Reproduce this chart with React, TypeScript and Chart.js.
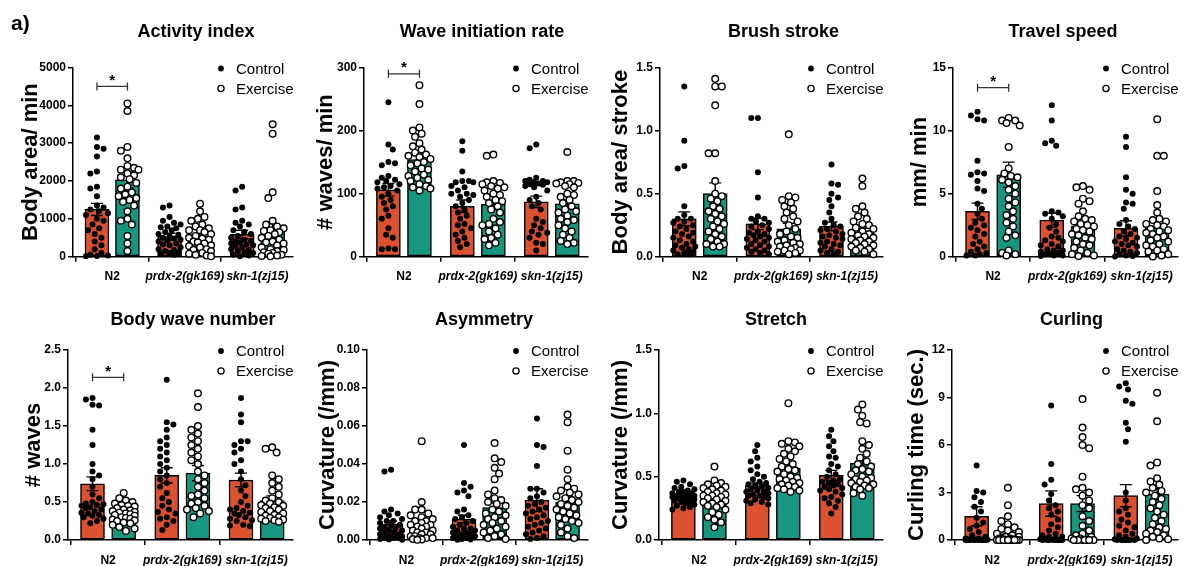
import React, { useEffect, useRef } from 'react';
import { Chart, registerables } from 'chart.js';

Chart.register(...registerables);

// ---------------- DATA ----------------
const categories = ['N2', 'prdx-2(gk169)', 'skn-1(zj15)'];
const seriesNames = ['Control', 'Exercise'];

// Activity index (body area / min)
const activityControl = [
  [3150, 2900, 2850, 2650, 2250, 2200, 1850, 1800, 1600, 1350, 1300, 1250, 1200, 1150, 1100, 1000, 950, 850, 750, 700, 600, 500, 400, 300, 200, 100, 50, 30, 20, 10],
  [1350, 1300, 1050, 950, 900, 850, 800, 780, 750, 700, 650, 600, 580, 550, 500, 480, 450, 420, 400, 350, 320, 300, 250, 200, 180, 150, 120, 100, 80, 50],
  [1850, 1750, 1300, 1250, 950, 900, 850, 800, 700, 650, 600, 550, 500, 450, 420, 400, 380, 350, 320, 300, 280, 250, 200, 180, 150, 120, 100, 50, 30, 10],
];
const activityExercise = [
  [4050, 3850, 2900, 2800, 2600, 2400, 2350, 2300, 2300, 2200, 2150, 2100, 2050, 1950, 1850, 1800, 1700, 1650, 1600, 1550, 1500, 1450, 1350, 1200, 1000, 950, 850, 550, 350, 150],
  [1400, 1200, 1050, 1000, 950, 850, 800, 750, 700, 700, 650, 600, 550, 500, 480, 450, 400, 380, 350, 300, 280, 250, 200, 180, 150, 100, 80, 50, 30, 10],
  [3500, 3250, 1700, 1550, 950, 850, 800, 750, 700, 680, 650, 600, 550, 500, 450, 400, 380, 350, 300, 250, 200, 180, 150, 120, 100, 80, 50, 30, 20, 10],
];
const activityControlMean = [1250, 530, 590];
const activityControlSem = [160, 90, 110];
const activityExerciseMean = [2030, 540, 720];
const activityExerciseSem = [210, 70, 150];

// Wave initiation rate (# waves / min)
const waveControl = [
  [245, 178, 170, 150, 148, 145, 128, 125, 122, 120, 118, 115, 112, 110, 108, 105, 100, 95, 90, 85, 80, 75, 65, 60, 45, 35, 30, 13, 12, 12],
  [183, 168, 135, 120, 120, 118, 118, 112, 110, 105, 100, 100, 98, 95, 90, 85, 80, 75, 70, 65, 60, 52, 50, 45, 40, 35, 30, 25, 20, 15],
  [178, 172, 125, 122, 120, 120, 118, 118, 116, 115, 114, 112, 110, 105, 95, 90, 85, 80, 75, 60, 55, 50, 45, 40, 38, 35, 30, 22, 20, 10],
];
const waveExercise = [
  [272, 242, 205, 200, 195, 190, 180, 175, 170, 165, 162, 160, 158, 155, 150, 148, 145, 140, 138, 135, 130, 128, 125, 122, 120, 115, 112, 110, 108, 105],
  [162, 160, 120, 118, 117, 115, 112, 110, 108, 105, 100, 98, 95, 90, 88, 85, 80, 75, 70, 60, 55, 52, 50, 45, 40, 35, 30, 28, 22, 18],
  [166, 120, 120, 118, 117, 116, 115, 112, 110, 100, 98, 95, 90, 85, 80, 75, 72, 70, 65, 60, 58, 55, 50, 45, 40, 35, 30, 25, 22, 20],
];
const waveControlMean = [106, 80, 87];
const waveControlSem = [10, 10, 9];
const waveExerciseMean = [154, 83, 84];
const waveExerciseSem = [8, 6, 6];

// Brush stroke (body area / stroke)
const brushControl = [
  [1.35, 0.92, 0.72, 0.70, 0.40, 0.33, 0.30, 0.30, 0.28, 0.27, 0.25, 0.24, 0.22, 0.20, 0.19, 0.18, 0.16, 0.15, 0.13, 0.12, 0.10, 0.09, 0.08, 0.07, 0.06, 0.05, 0.04, 0.03, 0.02, 0.02],
  [1.10, 1.10, 0.67, 0.47, 0.32, 0.30, 0.30, 0.28, 0.27, 0.25, 0.24, 0.22, 0.20, 0.19, 0.18, 0.17, 0.16, 0.15, 0.14, 0.13, 0.12, 0.10, 0.09, 0.08, 0.07, 0.06, 0.05, 0.04, 0.03, 0.02],
  [0.73, 0.58, 0.57, 0.50, 0.47, 0.45, 0.40, 0.35, 0.30, 0.27, 0.25, 0.24, 0.22, 0.21, 0.20, 0.18, 0.17, 0.16, 0.15, 0.14, 0.12, 0.11, 0.10, 0.09, 0.08, 0.06, 0.05, 0.04, 0.03, 0.02],
];
const brushExercise = [
  [1.41, 1.35, 1.35, 1.20, 0.82, 0.82, 0.60, 0.50, 0.48, 0.46, 0.44, 0.40, 0.38, 0.36, 0.34, 0.32, 0.30, 0.28, 0.26, 0.24, 0.22, 0.20, 0.18, 0.16, 0.14, 0.12, 0.10, 0.10, 0.08, 0.08],
  [0.97, 0.48, 0.47, 0.45, 0.43, 0.40, 0.38, 0.35, 0.32, 0.30, 0.28, 0.25, 0.22, 0.20, 0.18, 0.16, 0.15, 0.13, 0.12, 0.11, 0.10, 0.09, 0.08, 0.07, 0.06, 0.05, 0.05, 0.04, 0.03, 0.02],
  [0.62, 0.56, 0.40, 0.38, 0.35, 0.32, 0.30, 0.28, 0.26, 0.25, 0.23, 0.22, 0.20, 0.19, 0.18, 0.17, 0.16, 0.15, 0.14, 0.13, 0.12, 0.11, 0.10, 0.09, 0.08, 0.07, 0.06, 0.05, 0.04, 0.02],
];
const brushControlMean = [0.30, 0.26, 0.24];
const brushControlSem = [0.055, 0.045, 0.035];
const brushExerciseMean = [0.50, 0.22, 0.19];
const brushExerciseSem = [0.085, 0.045, 0.035];

// Travel speed (mm / min)
const speedControl = [
  [11.5, 11.2, 10.9, 10.8, 7.6, 6.7, 6.6, 6.5, 6.0, 5.4, 5.2, 4.2, 3.8, 3.4, 3.0, 2.7, 2.5, 2.3, 2.1, 1.8, 1.6, 1.2, 1.0, 0.8, 0.6, 0.4, 0.3, 0.2, 0.1, 0.1],
  [12.0, 10.8, 9.2, 9.0, 8.8, 3.6, 3.5, 3.4, 3.2, 3.0, 2.6, 2.3, 2.0, 1.6, 1.5, 1.3, 1.2, 1.0, 0.9, 0.8, 0.6, 0.5, 0.5, 0.4, 0.3, 0.2, 0.2, 0.1, 0.1, 0.05],
  [9.5, 8.7, 6.3, 5.3, 5.0, 4.3, 4.2, 3.8, 2.9, 2.6, 2.4, 2.2, 2.0, 1.8, 1.6, 1.5, 1.4, 1.2, 1.1, 1.0, 0.9, 0.8, 0.6, 0.5, 0.4, 0.3, 0.2, 0.1, 0.05, 0.02],
];
const speedExercise = [
  [11.0, 10.8, 10.8, 10.6, 10.4, 8.7, 7.0, 6.6, 6.4, 6.3, 6.1, 5.9, 5.6, 5.3, 5.0, 4.6, 4.3, 4.0, 3.6, 3.3, 3.0, 2.7, 2.4, 2.0, 1.7, 1.5, 0.5, 0.3, 0.2, 0.1],
  [5.6, 5.5, 5.3, 4.6, 4.4, 4.2, 3.6, 3.2, 3.0, 2.9, 2.8, 2.6, 2.5, 2.4, 2.2, 2.1, 2.0, 1.8, 1.7, 1.5, 1.4, 1.2, 1.0, 0.9, 0.7, 0.5, 0.3, 0.2, 0.1, 0.05],
  [10.9, 8.0, 8.0, 5.2, 4.1, 3.5, 3.0, 2.9, 2.8, 2.6, 2.5, 2.4, 2.2, 2.1, 2.0, 1.9, 1.8, 1.6, 1.5, 1.3, 1.2, 1.0, 0.9, 0.8, 0.6, 0.5, 0.4, 0.2, 0.1, 0.02],
];
const speedControlMean = [3.6, 2.9, 2.25];
const speedControlSem = [0.65, 0.55, 0.6];
const speedExerciseMean = [6.5, 2.4, 2.3];
const speedExerciseSem = [1.0, 0.3, 0.5];

// Body wave number (# waves)
const bodyWaveControl = [
  [1.87, 1.85, 1.78, 1.77, 1.45, 1.25, 1.0, 0.9, 0.85, 0.8, 0.7, 0.6, 0.55, 0.5, 0.48, 0.47, 0.46, 0.45, 0.43, 0.42, 0.40, 0.38, 0.36, 0.35, 0.33, 0.32, 0.30, 0.28, 0.25, 0.22],
  [2.11, 1.55, 1.52, 1.45, 1.35, 1.30, 1.25, 1.20, 1.15, 1.10, 1.05, 1.00, 0.95, 0.90, 0.85, 0.80, 0.75, 0.70, 0.62, 0.55, 0.50, 0.45, 0.40, 0.37, 0.35, 0.30, 0.28, 0.25, 0.20, 0.13],
  [1.87, 1.65, 1.55, 1.30, 1.30, 1.25, 1.20, 1.15, 1.05, 1.00, 0.90, 0.80, 0.72, 0.65, 0.58, 0.50, 0.45, 0.42, 0.40, 0.38, 0.36, 0.35, 0.33, 0.30, 0.28, 0.26, 0.25, 0.20, 0.19, 0.18],
];
const bodyWaveExercise = [
  [0.62, 0.55, 0.52, 0.50, 0.48, 0.46, 0.45, 0.44, 0.42, 0.40, 0.39, 0.38, 0.37, 0.36, 0.35, 0.34, 0.33, 0.32, 0.30, 0.29, 0.28, 0.27, 0.26, 0.25, 0.23, 0.22, 0.20, 0.17, 0.15, 0.12],
  [1.93, 1.75, 1.50, 1.45, 1.40, 1.35, 1.30, 1.25, 1.20, 1.15, 1.10, 1.05, 1.00, 0.90, 0.85, 0.80, 0.75, 0.70, 0.65, 0.60, 0.58, 0.55, 0.50, 0.48, 0.45, 0.42, 0.40, 0.38, 0.35, 0.30],
  [1.22, 1.20, 1.15, 0.85, 0.80, 0.75, 0.70, 0.65, 0.60, 0.55, 0.52, 0.50, 0.48, 0.46, 0.45, 0.43, 0.42, 0.40, 0.38, 0.37, 0.35, 0.33, 0.32, 0.30, 0.29, 0.28, 0.27, 0.26, 0.25, 0.24],
];
const bodyWaveControlMean = [0.74, 0.85, 0.79];
const bodyWaveControlSem = [0.09, 0.1, 0.09];
const bodyWaveExerciseMean = [0.36, 0.88, 0.52];
const bodyWaveExerciseSem = [0.03, 0.1, 0.06];

// Asymmetry (curvature /mm)
const asymControl = [
  [0.037, 0.036, 0.016, 0.015, 0.014, 0.013, 0.012, 0.011, 0.010, 0.010, 0.009, 0.008, 0.008, 0.007, 0.006, 0.006, 0.005, 0.005, 0.004, 0.004, 0.003, 0.003, 0.002, 0.002, 0.001, 0.001, 0.001, 0.0005, 0.0003, 0.0001],
  [0.050, 0.030, 0.028, 0.026, 0.025, 0.023, 0.016, 0.015, 0.013, 0.012, 0.011, 0.010, 0.009, 0.008, 0.007, 0.006, 0.006, 0.005, 0.005, 0.004, 0.004, 0.003, 0.003, 0.002, 0.002, 0.001, 0.001, 0.0005, 0.0003, 0.0001],
  [0.064, 0.050, 0.049, 0.039, 0.027, 0.027, 0.025, 0.023, 0.022, 0.020, 0.019, 0.018, 0.017, 0.016, 0.015, 0.014, 0.013, 0.012, 0.011, 0.010, 0.009, 0.008, 0.007, 0.006, 0.005, 0.004, 0.003, 0.002, 0.001, 0.0005],
];
const asymExercise = [
  [0.052, 0.020, 0.016, 0.016, 0.014, 0.013, 0.012, 0.011, 0.010, 0.010, 0.009, 0.008, 0.008, 0.007, 0.007, 0.006, 0.005, 0.005, 0.004, 0.004, 0.003, 0.003, 0.002, 0.002, 0.001, 0.001, 0.001, 0.0005, 0.0003, 0.0001],
  [0.051, 0.043, 0.041, 0.038, 0.035, 0.032, 0.026, 0.024, 0.022, 0.021, 0.020, 0.019, 0.018, 0.016, 0.015, 0.014, 0.013, 0.012, 0.011, 0.010, 0.009, 0.008, 0.007, 0.006, 0.005, 0.004, 0.003, 0.002, 0.001, 0.0005],
  [0.066, 0.062, 0.047, 0.037, 0.032, 0.028, 0.027, 0.026, 0.025, 0.024, 0.023, 0.022, 0.021, 0.020, 0.019, 0.018, 0.017, 0.016, 0.015, 0.014, 0.013, 0.012, 0.011, 0.010, 0.009, 0.008, 0.006, 0.004, 0.002, 0.001],
];
const asymControlMean = [0.0082, 0.011, 0.021];
const asymControlSem = [0.0018, 0.002, 0.006];
const asymExerciseMean = [0.0083, 0.017, 0.020];
const asymExerciseSem = [0.0018, 0.0025, 0.0025];

// Stretch (curvature /mm)
const stretchControl = [
  [0.47, 0.46, 0.44, 0.42, 0.41, 0.40, 0.39, 0.38, 0.38, 0.37, 0.37, 0.36, 0.36, 0.35, 0.35, 0.34, 0.34, 0.33, 0.33, 0.32, 0.32, 0.31, 0.30, 0.30, 0.29, 0.28, 0.27, 0.26, 0.25, 0.24],
  [0.75, 0.70, 0.65, 0.62, 0.58, 0.55, 0.52, 0.50, 0.48, 0.46, 0.45, 0.44, 0.43, 0.42, 0.41, 0.40, 0.39, 0.38, 0.38, 0.37, 0.36, 0.35, 0.35, 0.34, 0.33, 0.32, 0.31, 0.30, 0.29, 0.28],
  [0.87, 0.82, 0.78, 0.74, 0.70, 0.66, 0.65, 0.60, 0.58, 0.55, 0.52, 0.50, 0.48, 0.47, 0.46, 0.45, 0.44, 0.43, 0.42, 0.41, 0.40, 0.39, 0.38, 0.36, 0.34, 0.33, 0.31, 0.29, 0.26, 0.21],
];
const stretchExercise = [
  [0.58, 0.47, 0.45, 0.44, 0.43, 0.42, 0.41, 0.40, 0.39, 0.38, 0.37, 0.36, 0.35, 0.35, 0.34, 0.33, 0.32, 0.31, 0.30, 0.29, 0.28, 0.27, 0.26, 0.24, 0.22, 0.20, 0.18, 0.16, 0.14, 0.10],
  [1.08, 0.78, 0.77, 0.76, 0.74, 0.72, 0.70, 0.68, 0.66, 0.64, 0.62, 0.60, 0.58, 0.56, 0.55, 0.54, 0.52, 0.50, 0.49, 0.48, 0.47, 0.46, 0.45, 0.44, 0.43, 0.42, 0.41, 0.40, 0.39, 0.38],
  [1.07, 1.03, 0.98, 0.93, 0.92, 0.78, 0.75, 0.72, 0.68, 0.65, 0.62, 0.60, 0.58, 0.56, 0.55, 0.54, 0.52, 0.50, 0.49, 0.48, 0.47, 0.46, 0.45, 0.44, 0.43, 0.42, 0.41, 0.40, 0.37, 0.35],
];
const stretchControlMean = [0.36, 0.43, 0.51];
const stretchControlSem = [0.01, 0.02, 0.04];
const stretchExerciseMean = [0.34, 0.565, 0.605];
const stretchExerciseSem = [0.02, 0.03, 0.04];

// Curling (curling time, sec.)
const curlControl = [
  [4.7, 3.1, 3.0, 2.7, 2.4, 2.1, 1.8, 1.4, 1.1, 0.9, 0.7, 0.5, 0.3, 0.2, 0.1, 0.1, 0.05, 0.05, 0.02, 0.02, 0.01, 0.01, 0, 0, 0, 0, 0, 0, 0, 0],
  [8.5, 4.8, 3.8, 3.5, 2.9, 2.5, 2.2, 2.0, 1.8, 1.6, 1.3, 1.0, 0.8, 0.6, 0.4, 0.3, 0.2, 0.2, 0.1, 0.1, 0.05, 0.05, 0, 0, 0, 0, 0, 0, 0, 0],
  [9.9, 9.7, 9.5, 8.8, 8.6, 7.4, 7.0, 6.2, 3.0, 2.5, 2.0, 1.8, 1.6, 1.3, 1.1, 0.9, 0.8, 0.6, 0.4, 0.3, 0.2, 0.1, 0.05, 0, 0, 0, 0, 0, 0, 0],
];
const curlExercise = [
  [3.3, 2.2, 1.5, 1.2, 1.0, 0.8, 0.7, 0.6, 0.5, 0.4, 0.3, 0.2, 0.2, 0.1, 0.1, 0.05, 0.05, 0, 0, 0, 0, 0, 0, 0, 0, 0, 0, 0, 0, 0],
  [8.9, 7.1, 6.5, 6.0, 5.8, 4.0, 3.3, 3.2, 3.0, 2.8, 2.5, 2.2, 2.0, 1.5, 1.2, 0.9, 0.6, 0.4, 0.3, 0.2, 0.1, 0.1, 0, 0, 0, 0, 0, 0, 0, 0],
  [9.3, 7.5, 4.9, 4.7, 3.9, 3.7, 3.5, 3.3, 3.1, 3.0, 2.8, 2.6, 2.4, 2.2, 2.0, 1.8, 1.6, 1.4, 1.2, 1.0, 0.8, 0.7, 0.6, 0.5, 0.4, 0.3, 0.2, 0.1, 0.05, 0],
];
const curlControlMean = [1.5, 2.3, 2.8];
const curlControlSem = [0.6, 0.8, 0.7];
const curlExerciseMean = [0.4, 2.3, 2.9];
const curlExerciseSem = [0.15, 0.5, 0.35];

// ---------------- STYLE / LAYOUT ----------------
const SANS = "'Liberation Sans', Arial, Helvetica, sans-serif";
const RED = '#DC5230';
const TEAL = '#17977F';
const X_MIN = -0.54;
const X_MAX = 2.49;
const BAR_OFF = 0.21;
const TITLE_SIZE = 18;
const YTITLE_SIZE = 22;

type Panel = {
  title: string; yTitle: string; max: number; step: number; dec: number;
  control: number[][]; exercise: number[][];
  cMean: number[]; cSem: number[]; eMean: number[]; eSem: number[];
  sig: number | null;
  cl: number; ct: number; cw: number; ch: number;
  L: number; R: number; T: number; B: number; titleY: number; yTitleX: number;
};

const TOP = { ct: 0, ch: 285, T: 67.5, B: 256.7, titleY: 32 };
const BOT = { ct: 285, ch: 281, T: 350, B: 540, titleY: 320 };

const PANELS: Panel[] = [
  { title: 'Activity index', yTitle: 'Body area/ min', max: 5000, step: 1000, dec: 0,
    control: activityControl, exercise: activityExercise,
    cMean: activityControlMean, cSem: activityControlSem, eMean: activityExerciseMean, eSem: activityExerciseSem,
    sig: 4500, cl: 0, cw: 392, L: 73, R: 293, yTitleX: 31, ...TOP },
  { title: 'Wave initiation rate', yTitle: '# waves/ min', max: 300, step: 100, dec: 0,
    control: waveControl, exercise: waveExercise,
    cMean: waveControlMean, cSem: waveControlSem, eMean: waveExerciseMean, eSem: waveExerciseSem,
    sig: 290, cl: 295, cw: 374, L: 364, R: 588, yTitleX: 326, ...TOP },
  { title: 'Brush stroke', yTitle: 'Body area/ stroke', max: 1.5, step: 0.5, dec: 1,
    control: brushControl, exercise: brushExercise,
    cMean: brushControlMean, cSem: brushControlSem, eMean: brushExerciseMean, eSem: brushExerciseSem,
    sig: null, cl: 590, cw: 387, L: 660, R: 883, yTitleX: 621, ...TOP },
  { title: 'Travel speed', yTitle: 'mm/ min', max: 15, step: 5, dec: 0,
    control: speedControl, exercise: speedExercise,
    cMean: speedControlMean, cSem: speedControlSem, eMean: speedExerciseMean, eSem: speedExerciseSem,
    sig: 13.4, cl: 885, cw: 356, L: 953, R: 1178, yTitleX: 920, ...TOP },
  { title: 'Body wave number', yTitle: '# waves', max: 2.5, step: 0.5, dec: 1,
    control: bodyWaveControl, exercise: bodyWaveExercise,
    cMean: bodyWaveControlMean, cSem: bodyWaveControlSem, eMean: bodyWaveExerciseMean, eSem: bodyWaveExerciseSem,
    sig: 2.14, cl: 0, cw: 386, L: 68, R: 293, yTitleX: 34, ...BOT },
  { title: 'Asymmetry', yTitle: 'Curvature (/mm)', max: 0.1, step: 0.02, dec: 2,
    control: asymControl, exercise: asymExercise,
    cMean: asymControlMean, cSem: asymControlSem, eMean: asymExerciseMean, eSem: asymExerciseSem,
    sig: null, cl: 295, cw: 378, L: 367, R: 588, yTitleX: 328, ...BOT },
  { title: 'Stretch', yTitle: 'Curvature (/mm)', max: 1.5, step: 0.5, dec: 1,
    control: stretchControl, exercise: stretchExercise,
    cMean: stretchControlMean, cSem: stretchControlSem, eMean: stretchExerciseMean, eSem: stretchExerciseSem,
    sig: null, cl: 590, cw: 372, L: 659, R: 883, yTitleX: 621, ...BOT },
  { title: 'Curling', yTitle: 'Curling time (sec.)', max: 12, step: 3, dec: 0,
    control: curlControl, exercise: curlExercise,
    cMean: curlControlMean, cSem: curlControlSem, eMean: curlExerciseMean, eSem: curlExerciseSem,
    sig: null, cl: 885, cw: 373, L: 952, R: 1178, yTitleX: 917, ...BOT },
];

// beeswarm-like horizontal spreading (layout only, values untouched)
function swarmOffsets(values: number[], pxPerY: number, pxPerX: number): number[] {
  const r = 3.3, maxPx = 11, step = 2.2;
  const order = values.map((_, i) => i).sort((a, b) => values[b] - values[a]);
  const placed: { x: number; y: number }[] = [];
  const out = new Array(values.length).fill(0);
  order.forEach((idx, k) => {
    const y = values[idx] * pxPerY;
    const cands = [0];
    for (let s = step; s <= maxPx + 1e-6; s += step) {
      if (k % 2) cands.push(-s, s); else cands.push(s, -s);
    }
    let best = 0, bestD = -1;
    for (const c of cands) {
      let dmin = Infinity;
      for (const q of placed) {
        const d = Math.hypot(q.x - c, q.y - y);
        if (d < dmin) dmin = d;
      }
      if (dmin >= 2 * r) { best = c; break; }
      if (dmin > bestD) { bestD = dmin; best = c; }
    }
    placed.push({ x: best, y });
    out[idx] = best / pxPerX;
  });
  return out;
}

function decorPlugin(p: Panel) {
  return {
    id: 'decor',
    afterDatasetDraw(chart: any, args: any) {
      if (args.index > 1) return;
      const means = args.index === 0 ? p.cMean : p.eMean;
      const sems = args.index === 0 ? p.cSem : p.eSem;
      const off = args.index === 0 ? -BAR_OFF : BAR_OFF;
      const { ctx, scales: { x, y } } = chart;
      ctx.save();
      ctx.strokeStyle = '#000';
      ctx.lineWidth = 1.4;
      means.forEach((m: number, i: number) => {
        const px = x.getPixelForValue(i + off);
        const top = y.getPixelForValue(m + sems[i]);
        const low = y.getPixelForValue(Math.max(0, m - sems[i]));
        ctx.beginPath();
        ctx.moveTo(px, low); ctx.lineTo(px, top);
        ctx.moveTo(px - 6, top); ctx.lineTo(px + 6, top);
        ctx.moveTo(px - 6, low); ctx.lineTo(px + 6, low);
        ctx.stroke();
      });
      ctx.restore();
    },
    afterDraw(chart: any) {
      const { ctx, scales: { x, y }, chartArea } = chart;
      ctx.save();
      // legend
      const lx = chartArea.right - 72;
      const rows = [chartArea.top + 1, chartArea.top + 21];
      ctx.font = `15px ${SANS}`;
      ctx.textBaseline = 'middle';
      ctx.textAlign = 'left';
      seriesNames.forEach((name, i) => {
        ctx.beginPath();
        ctx.arc(lx, rows[i], i === 0 ? 2.9 : 3.1, 0, Math.PI * 2);
        if (i === 0) { ctx.fillStyle = '#000'; ctx.fill(); }
        else { ctx.fillStyle = '#fff'; ctx.fill(); ctx.lineWidth = 1.3; ctx.strokeStyle = '#000'; ctx.stroke(); }
        ctx.fillStyle = '#000';
        ctx.fillText(name, lx + 15, rows[i] + 1);
      });
      // significance bracket
      if (p.sig !== null) {
        const x1 = x.getPixelForValue(-BAR_OFF);
        const x2 = x.getPixelForValue(BAR_OFF);
        const yy = y.getPixelForValue(p.sig);
        ctx.strokeStyle = '#333';
        ctx.lineWidth = 1.3;
        ctx.beginPath();
        ctx.moveTo(x1, yy); ctx.lineTo(x2, yy);
        ctx.moveTo(x1, yy - 4); ctx.lineTo(x1, yy + 4);
        ctx.moveTo(x2, yy - 4); ctx.lineTo(x2, yy + 4);
        ctx.stroke();
        ctx.font = `bold 15px ${SANS}`;
        ctx.textAlign = 'center';
        ctx.fillStyle = '#000';
        ctx.fillText('*', (x1 + x2) / 2, yy - 6);
      }
      ctx.restore();
    },
  };
}

function buildConfig(p: Panel): any {
  const pxPerX = (p.R - p.L) / (X_MAX - X_MIN);
  const pxPerY = (p.B - p.T) / p.max;
  const ctrlX = categories.map((_, i) => i - BAR_OFF);
  const exX = categories.map((_, i) => i + BAR_OFF);
  const points = (groups: number[][], centers: number[]) =>
    groups.flatMap((vals, gi) => {
      const offs = swarmOffsets(vals, pxPerY, pxPerX);
      return vals.map((v, k) => ({ x: centers[gi] + offs[k], y: v }));
    });
  const titleLH = TITLE_SIZE * 1.2;
  const titleRel = p.titleY - p.ct;
  const topRel = p.T - p.ct;
  const rightSpace = p.cl + p.cw - p.R;
  const axisLine = { display: true, color: '#000', width: 1.5 };
  const tickGrid = { display: true, drawOnChartArea: false, drawTicks: true, tickLength: 5, color: '#000', lineWidth: 1.5 };

  return {
    type: 'bar',
    data: {
      datasets: [
        { type: 'bar', label: seriesNames[0], data: ctrlX.map((x, i) => ({ x, y: p.cMean[i] })),
          backgroundColor: RED, borderColor: '#000', borderWidth: 1.5, borderSkipped: false,
          barThickness: 24, grouped: false, order: 3 },
        { type: 'bar', label: seriesNames[1], data: exX.map((x, i) => ({ x, y: p.eMean[i] })),
          backgroundColor: TEAL, borderColor: '#000', borderWidth: 1.5, borderSkipped: false,
          barThickness: 24, grouped: false, order: 2 },
        { type: 'scatter', label: seriesNames[0], data: points(p.control, ctrlX),
          pointRadius: 3, pointBackgroundColor: '#000', pointBorderColor: '#000', pointBorderWidth: 0,
          clip: false, order: 1 },
        { type: 'scatter', label: seriesNames[1], data: points(p.exercise, exX),
          pointRadius: 3.3, pointBackgroundColor: '#fff', pointBorderColor: '#000', pointBorderWidth: 1.4,
          clip: false, order: 0 },
      ],
    },
    options: {
      responsive: false,
      animation: false,
      events: [],
      layout: { padding: 0 },
      plugins: {
        legend: { display: false },
        tooltip: { enabled: false },
        title: {
          display: true, text: p.title, color: '#000',
          font: { family: SANS, size: TITLE_SIZE, weight: 'bold', lineHeight: 1.2 },
          padding: { top: titleRel - titleLH / 2, bottom: topRel - titleRel - titleLH / 2 },
        },
      },
      scales: {
        x: {
          type: 'linear', min: X_MIN, max: X_MAX, offset: false,
          grid: tickGrid, border: axisLine,
          afterBuildTicks: (s: any) => { s.ticks = categories.map((_, i) => ({ value: i })); },
          afterFit: (s: any) => { s.height = p.ct + p.ch - p.B; },
          ticks: {
            autoSkip: false, maxRotation: 0, minRotation: 0, padding: 8, color: '#000',
            font: (c: any) => ({ family: SANS, size: 12, weight: 'bold', style: c.index === 0 ? 'normal' : 'italic' }),
            callback: (v: any) => categories[Math.round(Number(v))] ?? '',
          },
        },
        y: {
          type: 'linear', min: 0, max: p.max,
          grid: tickGrid, border: axisLine,
          afterFit: (s: any) => { s.width = p.L - p.cl; },
          ticks: {
            stepSize: p.step, padding: 2, color: '#000',
            font: { family: SANS, size: 12, weight: 'bold' },
            callback: (v: any) => Number(v).toFixed(p.dec),
          },
          title: {
            display: true, text: p.yTitle, color: '#000',
            font: { family: SANS, size: YTITLE_SIZE, weight: 'bold', lineHeight: 1.2 },
            padding: { top: p.yTitleX - p.cl - (YTITLE_SIZE * 1.2) / 2, bottom: 0 },
          },
        },
        spacer: {
          type: 'linear', position: 'right', display: true,
          grid: { display: false }, border: { display: false }, ticks: { display: false },
          afterFit: (s: any) => { s.width = rightSpace; },
        },
      },
    },
    plugins: [decorPlugin(p)],
  };
}

function PanelChart({ p }: { p: Panel }) {
  const ref = useRef<HTMLCanvasElement>(null);
  useEffect(() => {
    if (!ref.current) return;
    const chart = new Chart(ref.current, buildConfig(p));
    return () => chart.destroy();
  }, [p]);
  return (
    <canvas
      ref={ref}
      width={p.cw}
      height={p.ch}
      style={{ position: 'absolute', left: p.cl, top: p.ct, width: p.cw, height: p.ch }}
    />
  );
}

export default function App() {
  return (
    <div style={{ position: 'fixed', left: 0, top: 0, width: 1184, height: 566, overflow: 'hidden', background: '#fff' }}>
      {PANELS.map((p, i) => <PanelChart key={i} p={p} />)}
      <div style={{ position: 'absolute', left: 11, top: 10, font: `bold 21px ${SANS}`, color: '#000', lineHeight: '26px' }}>a)</div>
    </div>
  );
}
